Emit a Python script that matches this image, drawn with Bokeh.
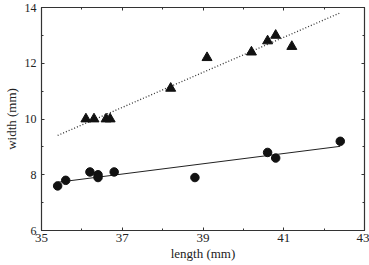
from bokeh.plotting import figure
from bokeh.models import LinearAxis, Range1d, FixedTicker, CustomLabelingPolicy
from bokeh.embed import file_html
from bokeh.resources import INLINE

# data
circ_len = [35.4, 35.6, 36.2, 36.4, 36.4, 36.8, 38.8, 40.6, 40.8, 42.4]
circ_wid = [7.6, 7.8, 8.1, 8.0, 7.9, 8.1, 7.9, 8.8, 8.6, 9.2]
tri_len = [36.1, 36.3, 36.6, 36.7, 38.2, 39.1, 40.2, 40.6, 40.8, 41.2]
tri_wid = [10.0, 10.0, 10.0, 10.0, 11.1, 12.2, 12.4, 12.8, 13.0, 12.6]
fit_circ_x = [35.4, 42.4]
fit_circ_y = [7.73, 9.02]
fit_tri_x = [35.4, 42.4]
fit_tri_y = [9.41, 13.81]
x_ticks = [35, 37, 39, 41, 43]
y_ticks = [6, 8, 10, 12, 14]

FONT = "Liberation Serif"
AX = "#333333"

p = figure(width=369, height=265, output_backend="svg", toolbar_location=None,
           x_range=Range1d(35, 43), y_range=Range1d(6, 14),
           x_axis_label="length (mm)", y_axis_label="width (mm)")
p.min_border_left = 37
p.min_border_right = 5
p.min_border_top = 7
p.min_border_bottom = 35
p.xgrid.visible = False
p.ygrid.visible = False
p.outline_line_color = AX
p.outline_line_width = 1.2
p.background_fill_color = "white"
p.border_fill_color = "white"

def style(ax, ticks, label_size="13px"):
    ax.ticker = FixedTicker(ticks=ticks, minor_ticks=[t + 1 for t in ticks[:-1]])
    ax.major_tick_in = 3
    ax.major_tick_out = 0
    ax.minor_tick_in = 2
    ax.minor_tick_out = 0
    ax.axis_line_color = AX
    ax.major_tick_line_color = AX
    ax.minor_tick_line_color = AX
    ax.major_label_text_font = FONT
    ax.major_label_text_font_size = label_size
    ax.major_label_text_color = "#222222"
    ax.axis_label_text_font = FONT
    ax.axis_label_text_font_size = "13px"
    ax.axis_label_text_font_style = "normal"
    ax.axis_label_text_color = "#222222"

style(p.xaxis[0], x_ticks)
style(p.yaxis[0], y_ticks, "12px")
p.xaxis[0].major_label_standoff = 3
p.xaxis[0].axis_label_standoff = 1
p.yaxis[0].major_label_standoff = 5
p.yaxis[0].axis_label_standoff = 3

no_labels = "for (const i of indices) { indices.unset(i) }\nreturn indices"
top = LinearAxis(major_label_standoff=0,
                 major_label_policy=CustomLabelingPolicy(code=no_labels))
style(top, x_ticks, "0px")
p.add_layout(top, "above")
right = LinearAxis(major_label_standoff=0,
                   major_label_policy=CustomLabelingPolicy(code=no_labels))
style(right, y_ticks, "0px")
p.add_layout(right, "right")

p.line(fit_circ_x, fit_circ_y, line_color="#222222", line_width=1)
p.line(fit_tri_x, fit_tri_y, line_color="#333333", line_width=1.3, line_dash="1 2")
p.scatter(circ_len, circ_wid, marker="circle", size=8.5, fill_color="#111111", line_color="#111111")
p.scatter(tri_len, tri_wid, marker="triangle", size=10, fill_color="#111111", line_color="#111111")

open("out.html", "w").write(file_html(p, INLINE))
